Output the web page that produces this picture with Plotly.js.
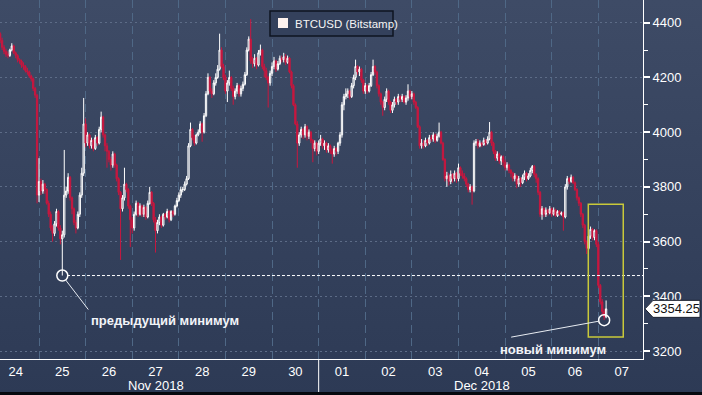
<!DOCTYPE html>
<html><head><meta charset="utf-8">
<script src="https://cdn.plot.ly/plotly-3.0.1.min.js"></script>
<style>
html,body{margin:0;padding:0;width:702px;height:395px;overflow:hidden;background:linear-gradient(to bottom,#3e4b66 0%,#2d3a55 100%);}
#chart{position:absolute;left:0;top:0;width:702px;height:395px;}
#edge{position:absolute;left:0;top:392px;width:702px;height:3px;background:#06090f;}
</style></head><body><div id="chart"></div><div id="edge"></div>
<script>
// Hourly BTCUSD (Bitstamp) candles, first candle 2018-11-24 04:00
const startTime = '2018-11-24T04:00:00Z';
const seriesName = 'BTCUSD (Bitstamp)';

const openPx = [
 4360,4335,4310,4295,4285,4280,4300,4315,4290,4280,4265,4260,4245,4240,4225,4220,4205,4195,4160,4135,
 3770,3820,3785,3810,3790,3740,3700,3650,3630,3665,3710,3650,3610,3625,3770,3785,3835,3760,3720,3670,3650,3700,3770,3850,
 4030,3960,3990,3950,3970,3940,3980,3960,4010,4055,3990,3950,3930,3900,3880,3920,3880,3830,3780,3720,3760,3810,3790,3730,
 3680,3650,3700,3740,3700,3730,3700,3725,3690,3740,3780,3740,3680,3640,3670,3690,3660,3700,3690,3710,3680,3710,3700,3730,
 3750,3770,3790,3790,3810,3830,3950,4010,3980,3960,3990,4000,4030,4000,4060,4140,4200,4150,4140,4180,4200,4230,4300,4240,
 4200,4150,4180,4200,4160,4130,4150,4170,4140,4160,4175,4210,4300,4340,4260,4250,4270,4245,4290,4300,4240,4225,4200,4180,
 4215,4240,4260,4230,4250,4270,4265,4275,4255,4270,4220,4170,4100,4030,3960,3990,4010,3990,4020,3985,4000,3970,3940,3960,
 3930,3960,3975,3950,3960,3935,3950,3930,3920,3940,3930,3960,3990,4100,4130,4140,4150,4130,4170,4200,4240,4220,4230,4190,
 4150,4170,4150,4170,4210,4240,4220,4170,4140,4110,4090,4120,4150,4110,4080,4100,4120,4110,4130,4120,4130,4110,4125,4150,
 4130,4140,4110,4090,4020,3950,3960,3950,3970,3960,3980,3975,3990,3970,3985,4000,3960,3900,3830,3840,3820,3845,3830,3850,
 3830,3870,3850,3840,3830,3810,3790,3800,3785,3960,3965,3950,3960,3955,3970,3960,3975,4000,3960,3930,3905,3920,3895,3910,
 3890,3870,3880,3860,3850,3830,3840,3810,3830,3815,3835,3850,3830,3840,3860,3875,3845,3830,3780,3700,3720,3700,3715,3705,
 3720,3700,3715,3695,3710,3700,3705,3690,3800,3830,3820,3835,3815,3790,3760,3740,3700,3660,3600,3575,3620,3645,3615,3640,
 3590,3440,3380,3345,3325
];
const highPx = [
 4365,4345,4318,4305,4295,4305,4325,4320,4295,4285,4270,4265,4255,4245,4235,4225,4210,4200,4165,4140,
 3905,3830,3825,3815,3795,3750,3710,3660,3675,3720,3715,3660,3640,3935,3800,3850,3840,3765,3725,3680,3710,3780,3870,4125,
 4050,4000,3995,3980,3975,3990,3985,4020,4075,4060,3995,3960,3935,3910,3930,3925,3885,3835,3785,3770,3870,3815,3795,3735,
 3690,3710,3750,3745,3740,3735,3735,3730,3750,3800,3785,3745,3690,3680,3700,3695,3705,3705,3720,3715,3715,3715,3735,3760,
 3780,3800,3800,3820,3840,3960,4035,4015,3990,3995,4010,4040,4035,4070,4150,4215,4205,4160,4190,4215,4245,4360,4310,4250,
 4210,4190,4225,4205,4170,4160,4180,4175,4170,4185,4220,4310,4350,4413,4275,4285,4275,4300,4320,4305,4250,4235,4205,4225,
 4255,4275,4265,4260,4280,4280,4290,4285,4280,4275,4225,4175,4105,4040,4000,4020,4015,4030,4025,4010,4005,3975,3970,3965,
 3970,3990,3980,3970,3965,3960,3955,3940,3950,3945,3965,4000,4110,4140,4160,4160,4155,4180,4210,4265,4245,4240,4235,4195,
 4180,4175,4180,4220,4265,4245,4225,4175,4145,4115,4130,4160,4155,4115,4110,4130,4125,4140,4135,4140,4135,4135,4175,4155,
 4150,4145,4115,4095,4025,3975,3970,3980,3975,3990,3990,4000,3995,3995,4035,4005,3965,3905,3855,3850,3860,3850,3860,3855,
 3885,3875,3860,3850,3835,3815,3810,3805,3970,3975,3975,3970,3965,3980,3975,3985,4037,4005,3965,3935,3930,3925,3915,3915,
 3900,3890,3885,3865,3855,3850,3845,3840,3835,3845,3860,3855,3850,3870,3880,3880,3850,3835,3785,3730,3725,3725,3720,3730,
 3725,3725,3720,3715,3715,3710,3710,3810,3840,3835,3845,3840,3820,3795,3765,3745,3705,3665,3605,3625,3655,3650,3645,3645,
 3600,3445,3390,3355,3385
];
const lowPx = [
 4325,4300,4285,4275,4270,4275,4295,4285,4270,4255,4250,4235,4228,4218,4210,4198,4185,4150,4125,3740,
 3745,3770,3775,3775,3735,3690,3640,3600,3620,3655,3640,3590,3476,3615,3760,3775,3750,3700,3660,3630,3645,3690,3760,3840,
 3945,3950,3940,3940,3930,3935,3950,3955,4000,3980,3930,3870,3890,3860,3870,3870,3820,3770,3533,3710,3750,3780,3720,3580,
 3630,3640,3695,3690,3695,3690,3690,3680,3685,3735,3730,3670,3560,3630,3660,3650,3655,3680,3685,3670,3675,3690,3695,3725,
 3745,3760,3780,3785,3805,3825,3945,3970,3950,3955,3985,3995,3965,3995,4055,4135,4140,4125,4135,4170,4195,4225,4235,4190,
 4140,4110,4170,4150,4100,4120,4140,4130,4130,4150,4170,4205,4295,4250,4235,4240,4230,4240,4280,4230,4200,4190,4090,4170,
 4205,4230,4220,4225,4245,4255,4255,4245,4250,4215,4160,4095,4025,3870,3950,3980,3975,3980,3970,3975,3960,3890,3930,3915,
 3920,3950,3940,3935,3925,3925,3920,3885,3910,3915,3920,3950,3980,4080,4120,4125,4120,4125,4160,4190,4210,4205,4180,4140,
 4140,4140,4145,4165,4205,4210,4160,4130,4100,4060,4080,4110,4100,4070,4070,4090,4100,4100,4110,4110,4105,4100,4115,4120,
 4120,4100,4085,4015,3940,3940,3940,3945,3950,3955,3965,3965,3960,3965,3980,3955,3895,3820,3800,3805,3810,3815,3820,3815,
 3820,3840,3830,3820,3800,3780,3780,3735,3780,3950,3940,3945,3945,3950,3950,3955,3970,3950,3920,3895,3895,3885,3880,3875,
 3860,3860,3850,3835,3820,3820,3795,3800,3800,3810,3825,3820,3825,3835,3850,3835,3815,3770,3690,3680,3690,3690,3695,3700,
 3690,3695,3690,3690,3695,3695,3640,3685,3790,3810,3815,3810,3785,3750,3730,3690,3650,3590,3555,3570,3610,3605,3605,3580,
 3430,3370,3330,3313,3320
];
const closePx = [
 4335,4310,4295,4285,4280,4300,4315,4290,4280,4265,4260,4245,4240,4225,4220,4205,4195,4160,4135,3770,
 3820,3785,3810,3790,3740,3700,3650,3630,3665,3710,3650,3610,3625,3770,3785,3835,3760,3720,3670,3650,3700,3770,3850,4030,
 3960,3990,3950,3970,3940,3980,3960,4010,4055,3990,3950,3930,3900,3880,3920,3880,3830,3780,3720,3760,3810,3790,3730,3680,
 3650,3700,3740,3700,3730,3700,3725,3690,3740,3780,3740,3680,3640,3670,3690,3660,3700,3690,3710,3680,3710,3700,3730,3750,
 3770,3790,3790,3810,3830,3950,4010,3980,3960,3990,4000,4030,4000,4060,4140,4200,4150,4140,4180,4200,4230,4300,4240,4200,
 4150,4180,4200,4160,4130,4150,4170,4140,4160,4175,4210,4300,4340,4260,4250,4270,4245,4290,4300,4240,4225,4200,4180,4215,
 4240,4260,4230,4250,4270,4265,4275,4255,4270,4220,4170,4100,4030,3960,3990,4010,3990,4020,3985,4000,3970,3940,3960,3930,
 3960,3975,3950,3960,3935,3950,3930,3920,3940,3930,3960,3990,4100,4130,4140,4150,4130,4170,4200,4240,4220,4230,4190,4150,
 4170,4150,4170,4210,4240,4220,4170,4140,4110,4090,4120,4150,4110,4080,4100,4120,4110,4130,4120,4130,4110,4125,4150,4130,
 4140,4110,4090,4020,3950,3960,3950,3970,3960,3980,3975,3990,3970,3985,4000,3960,3900,3830,3840,3820,3845,3830,3850,3830,
 3870,3850,3840,3830,3810,3790,3800,3785,3960,3965,3950,3960,3955,3970,3960,3975,4000,3960,3930,3905,3920,3895,3910,3890,
 3870,3880,3860,3850,3830,3840,3810,3830,3815,3835,3850,3830,3840,3860,3875,3845,3830,3780,3700,3720,3700,3715,3705,3720,
 3700,3715,3695,3710,3700,3705,3690,3800,3830,3820,3835,3815,3790,3760,3740,3700,3660,3600,3575,3620,3645,3615,3640,3590,
 3440,3380,3345,3325,3354.25
];

// axis labels
const dayNoon = ['2018-11-24 12:00','2018-11-25 12:00','2018-11-26 12:00','2018-11-27 12:00','2018-11-28 12:00','2018-11-29 12:00','2018-11-30 12:00','2018-12-01 12:00','2018-12-02 12:00','2018-12-03 12:00','2018-12-04 12:00','2018-12-05 12:00','2018-12-06 12:00','2018-12-07 12:00'];
const dayLabels = ['24','25','26','27','28','29','30','01','02','03','04','05','06','07'];
const midnights = ['2018-11-25','2018-11-26','2018-11-27','2018-11-28','2018-11-29','2018-11-30','2018-12-01','2018-12-02','2018-12-03','2018-12-04','2018-12-05','2018-12-06','2018-12-07'];
const monthLabels = ['Nov 2018','Dec 2018'];
const monthCenters = ['2018-11-27 12:00','2018-12-04 12:00'];
const yTickVals = [3200,3400,3600,3800,4000,4200,4400];
const yMinorVals = [3300,3500,3700,3900,4100,4300];
const prevMinText = 'предыдущий минимум';
const newMinText = 'новый минимум';

// timestamps
const t0 = Date.parse(startTime);
const times = closePx.map((_, i) => new Date(t0 + i * 3600000).toISOString().slice(0,16).replace('T',' '));
const fmtT = ms => new Date(ms).toISOString().slice(0,16).replace('T',' ');

// minima from the data
let prevIdx = 0, newIdx = 0;
const cutoff = Date.parse('2018-12-06T00:00:00Z');
lowPx.forEach((v, i) => {
  if (t0 + i*3600000 < cutoff && v < lowPx[prevIdx]) prevIdx = i;
  if (v < lowPx[newIdx]) newIdx = i;
});
const lastIdx = closePx.length - 1;
const xEnd = '2018-12-07 23:00';

const traces = [
  {type:'candlestick', x:times, open:openPx, high:highPx, low:lowPx, close:closePx,
   increasing:{line:{color:'#ffffff',width:1}, fillcolor:'rgba(255,255,255,0.25)'},
   decreasing:{line:{color:'#c8173f',width:1}, fillcolor:'#c8173f'},
   whiskerwidth:0, hoverinfo:'skip', showlegend:false, name:seriesName},
  {type:'scatter', mode:'markers', x:[times[prevIdx], times[newIdx]], y:[lowPx[prevIdx], lowPx[newIdx]],
   marker:{symbol:'circle-open', size:11, color:'#ffffff', line:{width:1.5}}, hoverinfo:'skip', showlegend:false}
];

const white = '#ffffff';
const layout = {
  width:702, height:395,
  margin:{l:0, r:59, t:0, b:36, pad:0},
  paper_bgcolor:'rgba(0,0,0,0)', plot_bgcolor:'rgba(0,0,0,0)',
  showlegend:false, boxgap:0.05,
  font:{family:'"Liberation Sans", Arial, sans-serif', size:13, color:white},
  xaxis:{type:'date', range:['2018-11-24 03:55', xEnd], rangeslider:{visible:false},
    tickmode:'array', tickvals:dayNoon, ticktext:dayLabels, ticks:'', showgrid:false,
    showline:true, linecolor:white, linewidth:1, zeroline:false, fixedrange:true,
    tickfont:{size:13, color:white},
    minor:{tickmode:'array', tickvals:midnights, showgrid:true, gridcolor:'#4f6886', griddash:'8px,5px', gridwidth:1, ticks:''}},
  yaxis:{side:'right', range:[3171, 4483], tickmode:'array', tickvals:yTickVals,
    showgrid:true, gridcolor:'#5d6c87', griddash:'2px,3px', gridwidth:1,
    showline:true, linecolor:white, linewidth:1, zeroline:false, fixedrange:true,
    ticks:'outside', ticklen:6, tickwidth:2, tickcolor:white, tickfont:{size:13, color:white},
    minor:{tickmode:'array', tickvals:yMinorVals, ticks:'outside', ticklen:4, tickwidth:1, tickcolor:white, showgrid:false}},
  shapes:[
    {type:'line', xref:'x', yref:'y', x0:fmtT(t0 + prevIdx*3600000 + 2.4*3600000), x1:xEnd,
     y0:lowPx[prevIdx], y1:lowPx[prevIdx], line:{color:white, width:1, dash:'3px,2px'}},
    {type:'rect', xref:'x', yref:'y', x0:'2018-12-06 18:50', x1:'2018-12-07 12:50', y0:3251, y1:3737,
     line:{color:'#c9c93a', width:1.5}, fillcolor:'rgba(0,0,0,0)'},
    {type:'line', xref:'x', yref:'paper', x0:'2018-12-01 00:00', x1:'2018-12-01 00:00', y0:0, y1:-0.092,
     line:{color:white, width:1}},
    {type:'line', xref:'x', yref:'y', xsizemode:'pixel', ysizemode:'pixel',
     xanchor:times[prevIdx], yanchor:lowPx[prevIdx], x0:3, y0:-4, x1:26, y1:-34, line:{color:'#e8ecf2', width:1}},
    {type:'line', xref:'x', yref:'y', xsizemode:'pixel', ysizemode:'pixel',
     xanchor:times[newIdx], yanchor:lowPx[newIdx], x0:-5, y0:-1, x1:-93, y1:-17, line:{color:'#e8ecf2', width:1}},
    {type:'path', xref:'paper', yref:'y', xsizemode:'pixel', ysizemode:'pixel', xanchor:1, yanchor:closePx[lastIdx],
     path:'M 2,0 L 10,8.5 L 57,8.5 L 57,-8.5 L 10,-8.5 Z', fillcolor:'#ffffff', line:{color:'#1c2230', width:1}, layer:'above'},
    {type:'rect', xref:'paper', yref:'paper', xsizemode:'pixel', ysizemode:'pixel', xanchor:0, yanchor:1,
     x0:270, x1:393, y0:-11, y1:-36, fillcolor:'#34415c', line:{color:'#0e1420', width:1.5}},
    {type:'rect', xref:'paper', yref:'paper', xsizemode:'pixel', ysizemode:'pixel', xanchor:0, yanchor:1,
     x0:278, x1:288, y0:-18, y1:-28, fillcolor:'#fdf2ee', line:{width:0}}
  ],
  annotations:[
    {xref:'x', yref:'y', x:times[prevIdx], y:lowPx[prevIdx], text:'<b>'+prevMinText+'</b>', showarrow:false,
     xanchor:'left', yanchor:'middle', xshift:27, yshift:-45, font:{size:13, color:'#f2f4f8'}},
    {xref:'x', yref:'y', x:times[newIdx], y:lowPx[newIdx], text:'<b>'+newMinText+'</b>', showarrow:false,
     xanchor:'center', yanchor:'middle', xshift:-51, yshift:-29, font:{size:13, color:'#f2f4f8'}},
    {xref:'x', yref:'paper', x:monthCenters[0], y:-0.073, text:monthLabels[0], showarrow:false, yanchor:'middle', font:{size:13, color:white}},
    {xref:'x', yref:'paper', x:monthCenters[1], y:-0.073, text:monthLabels[1], showarrow:false, yanchor:'middle', font:{size:13, color:white}},
    {xref:'paper', yref:'y', x:1, y:closePx[lastIdx], xshift:33.5, text:closePx[lastIdx].toFixed(2), showarrow:false,
     xanchor:'center', yanchor:'middle', font:{size:13, color:'#111111'}},
    {xref:'paper', yref:'paper', x:0, y:1, xshift:293, yshift:-23.5, text:seriesName, showarrow:false,
     xanchor:'left', yanchor:'middle', font:{size:11.5, color:'#f4f4f4'}}
  ]
};

Plotly.newPlot('chart', traces, layout, {displayModeBar:false, staticPlot:true});
</script></body></html>
